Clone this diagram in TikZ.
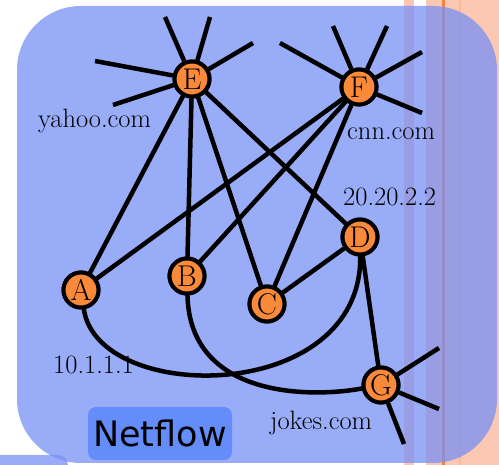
\documentclass[tikz,border=0pt]{standalone}
\usepackage{fontspec}
\newfontfamily\labelsans{DejaVu Sans}
\definecolor{panelblue}{RGB}{120,145,245}
\definecolor{tagblue}{RGB}{100,140,250}
\definecolor{paleorange}{RGB}{252,200,178}
\definecolor{lineorange}{RGB}{245,130,60}
\definecolor{hostorange}{RGB}{250,138,58}
\tikzset{
  host/.style={circle, draw=black, line width=4pt, fill=hostorange,
    minimum size=35pt, inner sep=0pt, font=\fontsize{30}{30}\selectfont},
  link/.style={line width=4.5pt, line cap=round},
  spoke/.style={line width=4.5pt},
  addr/.style={anchor=base west, inner sep=0pt, font=\fontsize{26.5}{26.5}\selectfont}
}
\begin{document}
\begin{tikzpicture}[x=1pt, y=-1pt]
\useasboundingbox (0,0) rectangle (499,465);
% page backdrop with the neighbouring slide strips
\fill[white] (0,0) rectangle (499,465);
\fill[paleorange] (404,0) rectangle (414,465);
\fill[paleorange] (426,0) rectangle (499,465);
\fill[lineorange] (441.5,0) rectangle (444.5,465);
\fill[paleorange!80!lineorange] (459,0) rectangle (461,465);
\fill[panelblue!75!white, rounded corners=10pt] (-10,455) rectangle (68,480);
% translucent panel
\fill[panelblue, opacity=0.75, rounded corners=64pt] (17,6) rectangle (497,463);
% caption tag
\node[fill=tagblue, rounded corners=8pt, minimum width=144pt, minimum height=53pt,
  inner sep=0pt, font=\labelsans\fontsize{35}{35}\selectfont] (tag) at (160,433.5) {Netflow};

% hosts
\node[host] (E) at (192,79) {E};
\node[host] (F) at (359,87) {F};
\node[host] (D) at (360,237) {D};
\node[host] (A) at (81,290) {A};
\node[host] (B) at (187,276) {B};
\node[host] (C) at (267,304) {C};
\node[host] (G) at (381,385) {G};

% loose ends of the fan-out links
\coordinate (e1) at (165,17);
\coordinate (e2) at (210,17);
\coordinate (e3) at (253,43);
\coordinate (e4) at (95,61);
\coordinate (e5) at (113,105);
\coordinate (f1) at (333,26);
\coordinate (f2) at (387,26);
\coordinate (f3) at (422,52);
\coordinate (f4) at (280,43);
\coordinate (f5) at (422,113);
\coordinate (g1) at (439,348);
\coordinate (g2) at (439,409);
\coordinate (g3) at (404,444);

\foreach \p in {e1,e2,e3,e4,e5} \draw[spoke] (E) -- (\p);
\foreach \p in {f1,f2,f3,f4,f5} \draw[spoke] (F) -- (\p);
\foreach \p in {g1,g2,g3} \draw[spoke] (G) -- (\p);

% flows
\draw[link] (E) -- (A);
\draw[link] (E) -- (B);
\draw[link] (E) -- (C);
\draw[link] (E) -- (D);
\draw[link] (F) -- (A);
\draw[link] (F) -- (B);
\draw[link] (F) -- (C);
\draw[link] (C) -- (D);
\draw[link] (D) -- (G);
\draw[link] (A) .. controls (98,405) and (362,405) .. (D);
\draw[link] (B) .. controls (190,398) and (310,398) .. (G);

% redraw hosts above the links
\foreach \n/\x/\y in {E/192/79, F/359/87, D/360/237, A/81/290, B/187/276, C/267/304, G/381/385}
  \node[host] at (\x,\y) {\n};

% addresses and names
\node[addr] (yahoo) at (38,128) {yahoo.com};
\node[addr] (cnn) at (347,140) {cnn.com};
\node[addr] (ipd) at (343,206) {20.20.2.2};
\node[addr] (ipa) at (53,374) {10.1.1.1};
\node[addr] (jokes) at (270,430) {jokes.com};
\end{tikzpicture}
\end{document}
